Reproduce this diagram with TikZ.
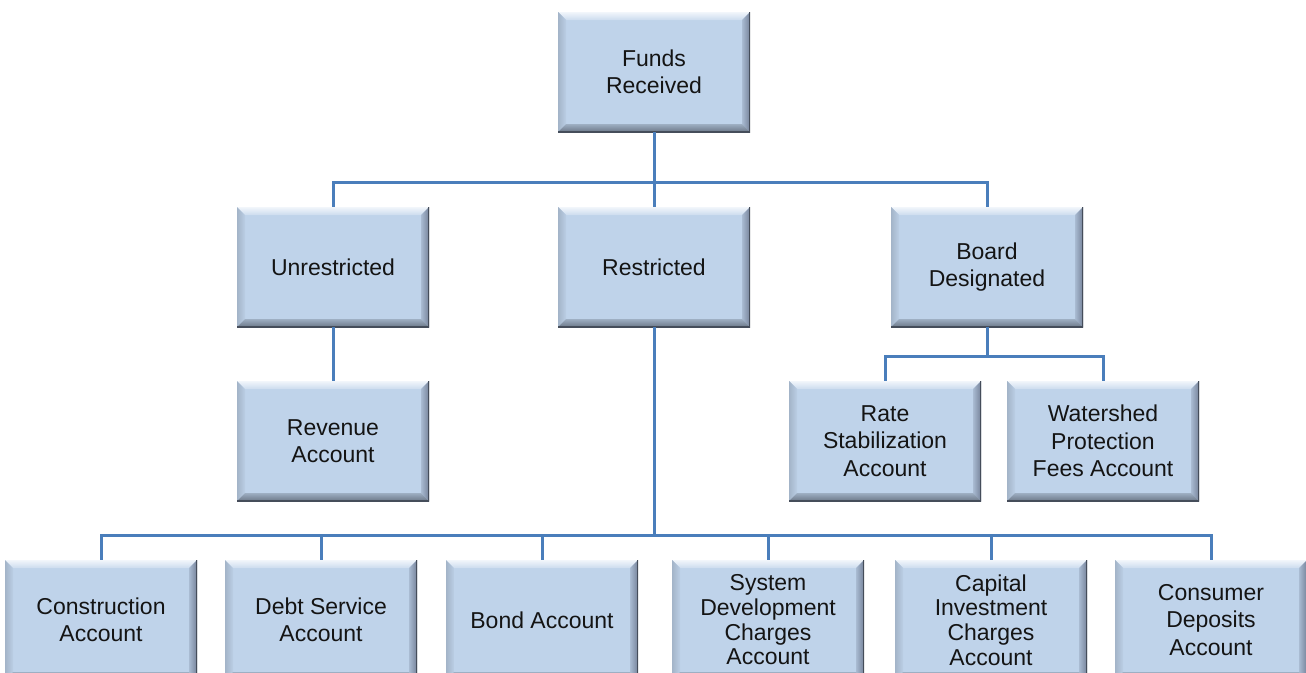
\documentclass[tikz,border=0pt]{standalone}
\usepackage{fontspec}
\setmainfont{Liberation Sans}
\usetikzlibrary{calc}

\definecolor{boxfill}{HTML}{BFD3EA}
\definecolor{bevtop}{HTML}{F2F6FB}
\definecolor{bevleft}{HTML}{A3B4C8}
\definecolor{bevright}{HTML}{76839A}
\definecolor{bevbot}{HTML}{6C7888}
\definecolor{bevedge}{HTML}{454D5A}
\definecolor{linecol}{HTML}{4A7EBB}
\definecolor{txtcol}{HTML}{141414}

\tikzset{
  fund/.style={rectangle,fill=boxfill,minimum width=192pt,minimum height=120pt,
    inner sep=0pt,outer sep=0pt,align=center,text=txtcol,
    font=\fontsize{23}{27.5}\selectfont,
    path picture={
      \coordinate (nw) at (path picture bounding box.north west);
      \coordinate (ne) at (path picture bounding box.north east);
      \coordinate (sw) at (path picture bounding box.south west);
      \coordinate (se) at (path picture bounding box.south east);
      \shade[top color=bevtop,bottom color=boxfill!80!white] (nw) -- (ne) -- ([shift={(-8pt,-8pt)}]ne) -- ([shift={(8pt,-8pt)}]nw) -- cycle;
      \shade[left color=bevleft,right color=boxfill!85!bevleft] (nw) -- ([shift={(8pt,-8pt)}]nw) -- ([shift={(8pt,8pt)}]sw) -- (sw) -- cycle;
      \shade[right color=bevright,left color=boxfill!70!bevright] (ne) -- ([shift={(-8pt,-8pt)}]ne) -- ([shift={(-8pt,8pt)}]se) -- (se) -- cycle;
      \shade[bottom color=bevbot,top color=boxfill!60!bevbot] (sw) -- (se) -- ([shift={(-8pt,8pt)}]se) -- ([shift={(8pt,8pt)}]sw) -- cycle;
      \draw[bevedge,line width=2pt] (ne) -- (se) -- (sw);
    }},
  tight/.style={font=\fontsize{23}{24.7}\selectfont},
  tree/.style={draw=linecol,line width=3pt,
    to path={(\tikztostart.south) |- ([yshift=25pt]\tikztotarget.north) -- (\tikztotarget.north)}}
}

\begin{document}
\begin{tikzpicture}[x=1pt,y=-1pt,node distance=195pt,every node/.style={fund}]
\useasboundingbox (0,0) rectangle (1306,672);

\node (1) at (654,72) {Funds\\Received};
\node (2) at (333,267) {Unrestricted};
\node (3) [below of=1] {Restricted};
\node (4) at (987,267) {Board\\Designated};
\node (5) [below of=2,node distance=174pt] {Revenue\\Account};
\node (6) at (885,441) {Rate\\Stabilization\\Account};
\node (7) at (1103,441) {Watershed\\Protection\\Fees Account};

\node (8) at (101,620) {Construction\\Account};
\node (9) at (321,620) {Debt Service\\Account};
\node (10) at (542,620) {Bond Account};
\node (11) [tight] at (768,620) {System\\Development\\Charges\\Account};
\node (12) [tight] at (991,620) {Capital\\Investment\\Charges\\Account};
\node (13) at (1211,620) {Consumer\\Deposits\\Account};

\path[tree] (1) edge (2)
                edge (3)
                edge (4)
            (2) edge (5)
            (4) edge (6)
                edge (7)
            (3) edge (8)
                edge (9)
                edge (10)
                edge (11)
                edge (12)
                edge (13);

\end{tikzpicture}
\end{document}
